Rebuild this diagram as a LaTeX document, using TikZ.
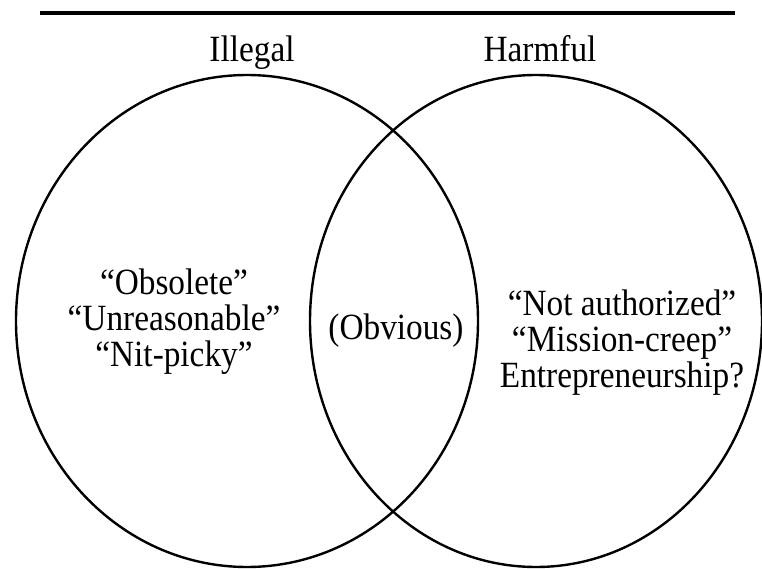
\documentclass[tikz,border=0pt]{standalone}
\usepackage{fontspec}
\setmainfont{Liberation Serif}[FakeStretch=0.9]
\usetikzlibrary{shapes.geometric,positioning}

\begin{document}
\begin{tikzpicture}[x=1pt, y=-1pt,
    set/.style={ellipse, draw, line width=2.4pt, minimum height=492pt},
    lbl/.style={font=\fontsize{37}{36}\selectfont, align=center, inner sep=0pt}]
  \useasboundingbox (0,0) rectangle (762,569);
  \coordinate (rl) at (40,13);
  \coordinate (rr) at (735,13);
  \draw[line width=4.5pt] (rl) -- (rr);
  \node[set, minimum width=462pt] (illegal) at (247,321) {};
  \node[set, minimum width=452pt] (harmful) at (536,321) {};
  \node[lbl, anchor=base] (illname) at (252,62) {Illegal};
  \node[lbl, anchor=base] (harmname) at (540,62) {Harmful};
  \node[lbl] (illtext) at (174,322) {“Obsolete”\\“Unreasonable”\\“Nit-picky”};
  \node[lbl] (both) at (396,331) {(Obvious)};
  \node[lbl] (harmtext) at (622,343) {“Not authorized”\\“Mission-creep”\\Entrepreneurship?};
\end{tikzpicture}
\end{document}
